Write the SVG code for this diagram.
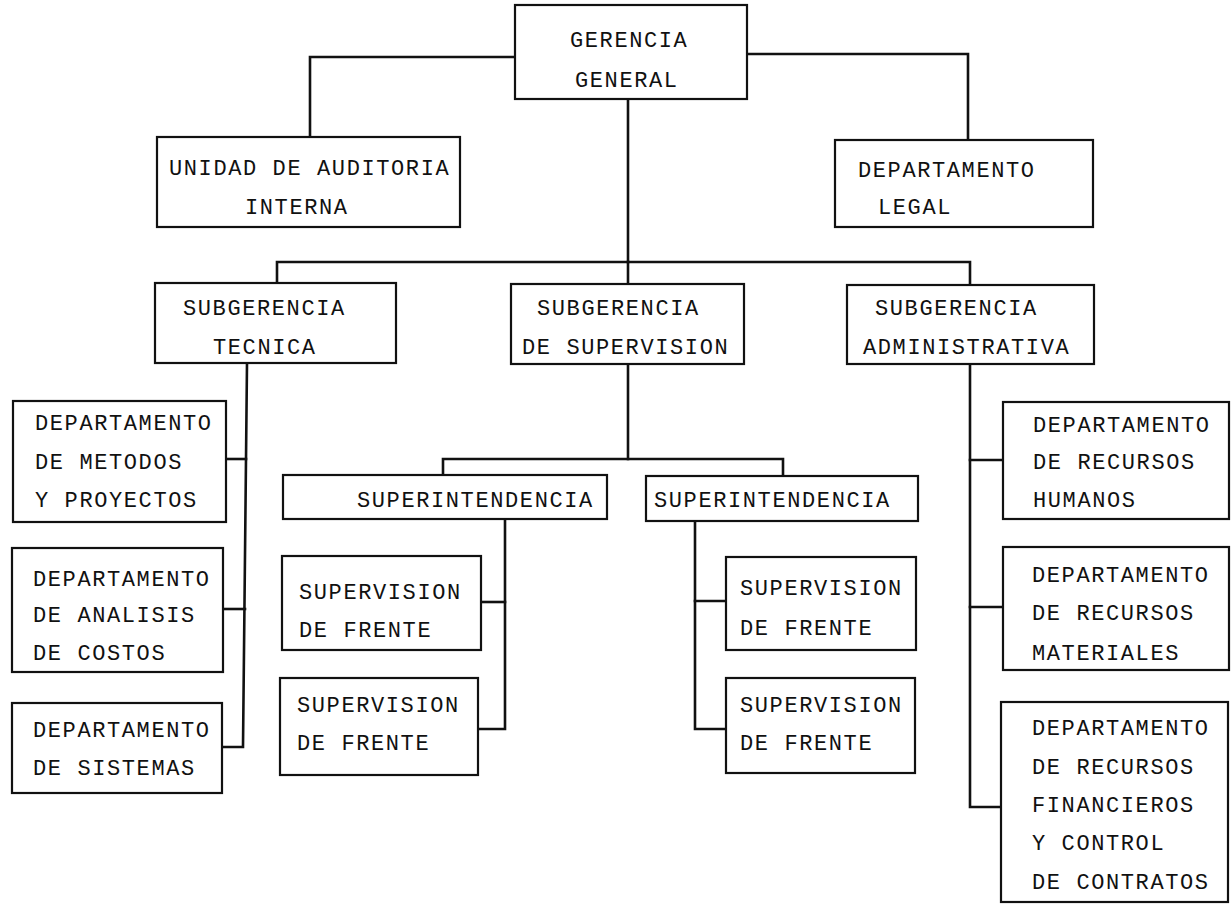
<svg xmlns="http://www.w3.org/2000/svg" width="1231" height="904" viewBox="0 0 1231 904">
<style>
.box{fill:#fff;stroke:#111;stroke-width:2.2}
.ln{fill:none;stroke:#111;stroke-width:2.6;stroke-linejoin:miter;stroke-linecap:square}
text{font-family:"Liberation Mono","Courier New",monospace;font-size:22px;letter-spacing:1.6px;fill:#111}
</style>
<rect width="1231" height="904" fill="#fff"/>
<g id="connectors">
<path class="ln" d="M515,57 H310 V137"/>
<path class="ln" d="M747,54 H968 V140"/>
<path class="ln" d="M628,99 V262"/>
<path class="ln" d="M277,283 V262 H970 V285"/>
<path class="ln" d="M628,262 V284"/>
<path class="ln" d="M247,363 L243,747 H222"/>
<path class="ln" d="M226,459 H246"/>
<path class="ln" d="M223,609 H245"/>
<path class="ln" d="M628,364 V459"/>
<path class="ln" d="M443,475 V459 H783 V476"/>
<path class="ln" d="M505,519 V729 H478"/>
<path class="ln" d="M481,602 H505"/>
<path class="ln" d="M695,521 V729 H726"/>
<path class="ln" d="M695,601 H726"/>
<path class="ln" d="M970,364 V807 H1001"/>
<path class="ln" d="M970,460 H1003"/>
<path class="ln" d="M970,607 H1003"/>
</g>
<g id="gerencia-general">
<rect class="box" x="515" y="5" width="232" height="94"/>
<text x="570" y="47">GERENCIA</text>
<text x="575" y="87">GENERAL</text>
</g>
<g id="unidad-auditoria">
<rect class="box" x="157" y="137" width="303" height="90"/>
<text x="169" y="175">UNIDAD DE AUDITORIA</text>
<text x="245" y="214">INTERNA</text>
</g>
<g id="depto-legal">
<rect class="box" x="835" y="140" width="258" height="87"/>
<text x="858" y="177">DEPARTAMENTO</text>
<text x="878" y="214">LEGAL</text>
</g>
<g id="subgerencia-tecnica">
<rect class="box" x="155" y="283" width="241" height="80"/>
<text x="183" y="315">SUBGERENCIA</text>
<text x="213" y="354">TECNICA</text>
</g>
<g id="subgerencia-supervision">
<rect class="box" x="511" y="284" width="233" height="80"/>
<text x="537" y="315">SUBGERENCIA</text>
<text x="522" y="354">DE SUPERVISION</text>
</g>
<g id="subgerencia-administrativa">
<rect class="box" x="847" y="285" width="247" height="79"/>
<text x="875" y="315">SUBGERENCIA</text>
<text x="863" y="354">ADMINISTRATIVA</text>
</g>
<g id="depto-metodos">
<rect class="box" x="13" y="401" width="213" height="121"/>
<text x="35" y="430">DEPARTAMENTO</text>
<text x="35" y="469">DE METODOS</text>
<text x="35" y="507">Y PROYECTOS</text>
</g>
<g id="depto-analisis">
<rect class="box" x="12" y="548" width="211" height="124"/>
<text x="33" y="586">DEPARTAMENTO</text>
<text x="33" y="622">DE ANALISIS</text>
<text x="33" y="660">DE COSTOS</text>
</g>
<g id="depto-sistemas">
<rect class="box" x="12" y="703" width="210" height="90"/>
<text x="33" y="737">DEPARTAMENTO</text>
<text x="33" y="775">DE SISTEMAS</text>
</g>
<g id="superintendencia-1">
<rect class="box" x="283" y="475" width="324" height="44"/>
<text x="357" y="507">SUPERINTENDENCIA</text>
</g>
<g id="superintendencia-2">
<rect class="box" x="646" y="476" width="272" height="45"/>
<text x="654" y="507">SUPERINTENDENCIA</text>
</g>
<g id="supervision-frente-1">
<rect class="box" x="282" y="556" width="199" height="94"/>
<text x="299" y="599">SUPERVISION</text>
<text x="299" y="637">DE FRENTE</text>
</g>
<g id="supervision-frente-2">
<rect class="box" x="280" y="678" width="198" height="97"/>
<text x="297" y="712">SUPERVISION</text>
<text x="297" y="750">DE FRENTE</text>
</g>
<g id="supervision-frente-3">
<rect class="box" x="726" y="557" width="190" height="93"/>
<text x="740" y="595">SUPERVISION</text>
<text x="740" y="635">DE FRENTE</text>
</g>
<g id="supervision-frente-4">
<rect class="box" x="726" y="678" width="189" height="95"/>
<text x="740" y="712">SUPERVISION</text>
<text x="740" y="750">DE FRENTE</text>
</g>
<g id="depto-rrhh">
<rect class="box" x="1003" y="402" width="226" height="117"/>
<text x="1033" y="432">DEPARTAMENTO</text>
<text x="1033" y="469">DE RECURSOS</text>
<text x="1033" y="507">HUMANOS</text>
</g>
<g id="depto-materiales">
<rect class="box" x="1003" y="547" width="226" height="123"/>
<text x="1032" y="582">DEPARTAMENTO</text>
<text x="1032" y="620">DE RECURSOS</text>
<text x="1032" y="660">MATERIALES</text>
</g>
<g id="depto-financieros">
<rect class="box" x="1001" y="702" width="227" height="200"/>
<text x="1032" y="735">DEPARTAMENTO</text>
<text x="1032" y="774">DE RECURSOS</text>
<text x="1032" y="812">FINANCIEROS</text>
<text x="1032" y="850">Y CONTROL</text>
<text x="1032" y="889">DE CONTRATOS</text>
</g>
</svg>
